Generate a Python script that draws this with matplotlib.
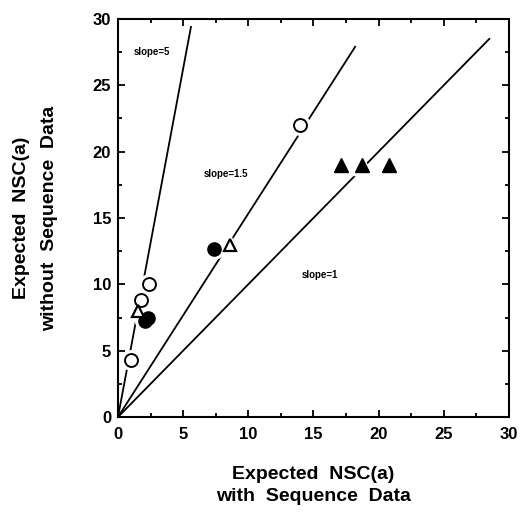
import matplotlib
matplotlib.use('Agg')
import matplotlib.pyplot as plt
from matplotlib.ticker import MultipleLocator

plt.rcParams['font.family'] = ['Liberation Sans', 'DejaVu Sans']
plt.rcParams['font.weight'] = 'bold'

# Reference lines (end points)
line_x_end = [5.6, 18.2, 28.5]
line_y_end = [29.4, 27.9, 28.5]
line_labels = ['slope=5', 'slope=1.5', 'slope=1']
label_x = [2.6, 8.3, 15.5]
label_y = [27.5, 18.3, 10.7]

# Data points
open_circle_x = [1.0, 1.75, 2.4, 14.0]
open_circle_y = [4.3, 8.8, 10.0, 22.0]
filled_circle_x = [2.05, 2.3, 7.4]
filled_circle_y = [7.2, 7.5, 12.7]
open_tri_x = [1.5, 8.6]
open_tri_y = [8.0, 13.0]
filled_tri_x = [17.15, 18.7, 20.8]
filled_tri_y = [19.0, 19.0, 19.0]

fig = plt.figure(figsize=(5.23, 5.12), dpi=100)
ax = fig.add_axes([0.2256, 0.1855, 0.7474, 0.7775])

for xe, ye in zip(line_x_end, line_y_end):
    ax.plot([0, xe], [0, ye], color='black', lw=1.3, zorder=1)

for lab, lx, ly in zip(line_labels, label_x, label_y):
    ax.text(lx, ly, lab, fontsize=7, fontweight='bold', ha='center', va='center')

# white halos break the lines around the markers
halo = dict(color='white', zorder=2, linestyle='none')
ax.plot(open_circle_x, open_circle_y, marker='o', markersize=14, **halo)
ax.plot(filled_circle_x, filled_circle_y, marker='o', markersize=14, **halo)
ax.plot(open_tri_x, open_tri_y, marker='^', markersize=14, **halo)
ax.plot(filled_tri_x, filled_tri_y, marker='^', markersize=14, **halo)

ax.plot(open_circle_x, open_circle_y, 'o', ms=9.3, mfc='white', mec='black', mew=1.4, zorder=3)
ax.plot(filled_circle_x, filled_circle_y, 'o', ms=9.5, mfc='black', mec='black', zorder=3)
ax.plot(open_tri_x, open_tri_y, '^', ms=8.5, mfc='white', mec='black', mew=1.6, zorder=3)
ax.plot(filled_tri_x, filled_tri_y, '^', ms=9.5, mfc='black', mec='black', zorder=3)

ax.set_xlim(0, 30)
ax.set_ylim(0, 30)
ax.xaxis.set_major_locator(MultipleLocator(5))
ax.yaxis.set_major_locator(MultipleLocator(5))
ax.xaxis.set_minor_locator(MultipleLocator(2.5))
ax.yaxis.set_minor_locator(MultipleLocator(2.5))
ax.tick_params(which='both', direction='in', top=True, right=True, width=1.3)
ax.tick_params(which='major', length=5, labelsize=12)
ax.tick_params(axis='x', which='major', pad=7)
ax.tick_params(axis='y', which='major', pad=5)
ax.tick_params(which='minor', length=3)
for lbl in ax.get_xticklabels() + ax.get_yticklabels():
    lbl.set_fontweight('bold')
for s in ax.spines.values():
    s.set_linewidth(1.5)

ax.set_xlabel('Expected  NSC(a)\nwith  Sequence  Data', fontsize=14, fontweight='bold',
              labelpad=17.5, linespacing=1.4)
ax.set_ylabel('Expected  NSC(a)\nwithout  Sequence  Data', fontsize=14, fontweight='bold',
              labelpad=25, linespacing=1.8)

fig.savefig('out.png', dpi=100)
